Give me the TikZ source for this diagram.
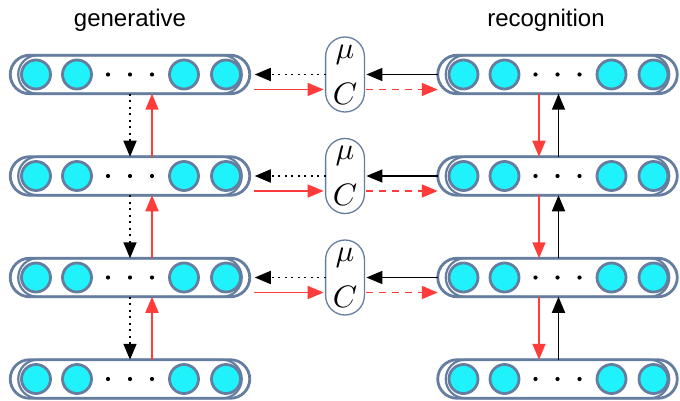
\documentclass[tikz,border=0pt]{standalone}
\usepackage{fontspec}
\setmainfont{Liberation Sans}
\usetikzlibrary{arrows.meta,calc}
\definecolor{slate}{RGB}{101,126,160}
\definecolor{cellfill}{RGB}{32,242,252}
\definecolor{sigred}{RGB}{255,60,60}

\tikzset{
  layerbox/.style={draw=slate, line width=2.8pt, rounded corners=19.25pt,
    minimum width=239.5pt, minimum height=38.5pt, inner sep=0pt, outer sep=0pt},
  layerinner/.style={draw=slate, line width=2.2pt, rounded corners=19.25pt},
  cellcirc/.style={draw=slate, fill=cellfill, line width=2.8pt},
  mcbox/.style={draw=slate, line width=1.3pt, fill=white, rounded corners=19.4pt,
    minimum width=38.8pt, minimum height=75pt, inner sep=0pt, outer sep=0pt,
    align=center, font=\fontsize{10}{46}\selectfont},
  title/.style={anchor=base, font=\fontsize{24}{28}\selectfont},
  tip/.style={-{Triangle[length=16pt,width=13pt]}},
  blackarrow/.style={tip, black, line width=1.6pt},
  dotarrow/.style={tip, black, line width=1.7pt, dash pattern=on 2pt off 4.5pt},
  redarrow/.style={tip, sigred, line width=1.7pt},
  reddash/.style={tip, sigred, line width=1.7pt, dash pattern=on 7pt off 6pt},
}

% large math symbol inside the mean / covariance nodes
\newcommand\bigsym[1]{\scalebox{3.1}{$#1$}}

% one layer of units: capsule outline, inner capsule, four cells and three dots
\newcommand\netlayer[3]{%
  \node[layerbox] (#1) at (#2,#3) {};
  \draw[layerinner] ([xshift=8pt]#1.south west) rectangle ([xshift=-8pt]#1.north east);
  \foreach \dx in {-94,-53,54,96}
    \draw[cellcirc] ($(#1)+(\dx,0)$) circle[radius=14.5pt];
  \foreach \dx in {-22,0,22}
    \fill[black] ($(#1)+(\dx,0)$) circle[radius=2.1pt];
}

\begin{document}
\begin{tikzpicture}[x=1pt,y=-1pt]
\useasboundingbox (0,0) rectangle (680,401);
\fill[white] (0,0) rectangle (680,401);

\node[title] (tgen) at (130,27) {generative};
\node[title] (trec) at (546,27) {recognition};

% generative stack (left) and recognition stack (right)
\netlayer{L1}{130}{74.5}
\netlayer{L2}{130}{176}
\netlayer{L3}{130}{277.5}
\netlayer{L4}{130}{379}
\netlayer{R1}{557.5}{74.5}
\netlayer{R2}{557.5}{176}
\netlayer{R3}{557.5}{277.5}
\netlayer{R4}{557.5}{379}

% mean / covariance nodes between the stacks
\foreach \i/\y in {1/74.5,2/176,3/277.5}{
  \node[mcbox] (M\i) at (345,\y) {\bigsym{\mu}\\\bigsym{C}};
}

% horizontal connections
\foreach \i in {1,2,3}{
  \draw[dotarrow] (M\i.west) -- ([xshift=5pt]L\i.east);
  \draw[redarrow] ([xshift=4pt,yshift=-15pt]L\i.east) -- ([xshift=-2pt,yshift=-15pt]M\i.west);
  \draw[blackarrow] (R\i.west) -- ([xshift=2pt]M\i.east);
  \draw[reddash] ([xshift=2pt,yshift=-15pt]M\i.east) -- ([yshift=-15pt]R\i.west);
}

% vertical connections
\foreach \i/\j in {1/2,2/3,3/4}{
  \draw[dotarrow] (L\i.south) -- (L\j.north);
  \draw[redarrow] ([xshift=22pt]L\j.north) -- ([xshift=22pt]L\i.south);
  \draw[redarrow] ([xshift=-18.5pt]R\i.south) -- ([xshift=-18.5pt]R\j.north);
  \draw[blackarrow] ([xshift=1pt]R\j.north) -- ([xshift=1pt]R\i.south);
}
\end{tikzpicture}
\end{document}
